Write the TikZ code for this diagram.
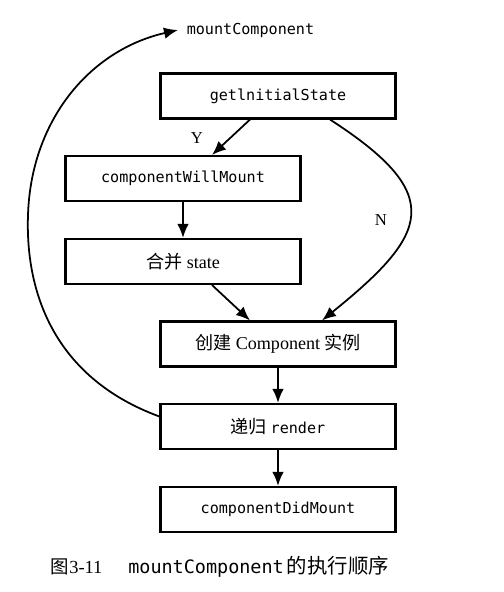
\documentclass[tikz,border=0pt]{standalone}
\usepackage{fontspec}
\setmainfont{Liberation Serif}
\setmonofont{DejaVu Sans Mono}
\newfontfamily\cjk{Noto Sans CJK SC}
\newcommand\rmbig{\fontsize{10.3}{12}\selectfont}
\usetikzlibrary{arrows.meta}
\begin{document}
\begin{tikzpicture}[box/.style={draw, line width=1.2pt, minimum width=4.7cm, minimum height=0.9cm, font=\fontsize{8.6}{10}\selectfont},
    every path/.style={line width=1pt}, tip/.style={-{Latex[length=2.8mm,width=2.3mm]}}]
    \useasboundingbox (0,0) rectangle (10.06,-11.84);

    \node[anchor=west, inner sep=4.5pt, font=\fontsize{8.6}{10}\selectfont] (mount) at (3.56,-0.6) {\ttfamily mountComponent};

    \node[box] (gis) at (5.56,-1.92) {\ttfamily getlnitialState};
    \node[box] (cwm) at (3.66,-3.57) {\ttfamily componentWillMount};
    \node[box] (merge) at (3.66,-5.23) {\rmbig{\cjk 合并} state};
    \node[box] (create) at (5.56,-6.88) {\rmbig{\cjk 创建} Component {\cjk 实例}};
    \node[box] (render) at (5.56,-8.53) {{\rmbig\cjk 递归} \ttfamily render};
    \node[box] (cdm) at (5.56,-10.19) {\ttfamily componentDidMount};

    \node[font=\fontsize{9.5}{11}\selectfont] (y) at (3.94,-2.76) {Y};
    \node[font=\fontsize{9.5}{11}\selectfont] (n) at (7.62,-4.40) {N};

    \node[anchor=west, inner sep=0pt, font=\fontsize{10.5}{12}\selectfont] (caption) at (1.0,-11.34)
        {{\cjk 图}3-11\hspace{1.4em}{\ttfamily mountComponent}\,{\fontsize{11.6}{13}\selectfont\cjk 的执行顺序}};

    \draw[tip] ([xshift=-0.56cm]gis.south) -- ([xshift=0.58cm]cwm.north);
    \draw[tip] (cwm) -- (merge);
    \draw[tip] ([xshift=0.58cm]merge.south) -- ([xshift=-0.56cm]create.north);
    \draw[tip] ([xshift=1.04cm]gis.south) .. controls (8.94,-3.9) and (8.58,-4.68) .. ([xshift=0.88cm]create.north);
    \draw[tip] (create) -- (render);
    \draw[tip] (render) -- (cdm);

    \draw[tip] ([yshift=0.2cm]render.west) .. controls (1.2,-7.6) and (0.5,-6.0) .. (0.56,-4.3)
        .. controls (0.62,-2.4) and (1.8,-1.0) .. (mount.west);

\end{tikzpicture}
\end{document}
